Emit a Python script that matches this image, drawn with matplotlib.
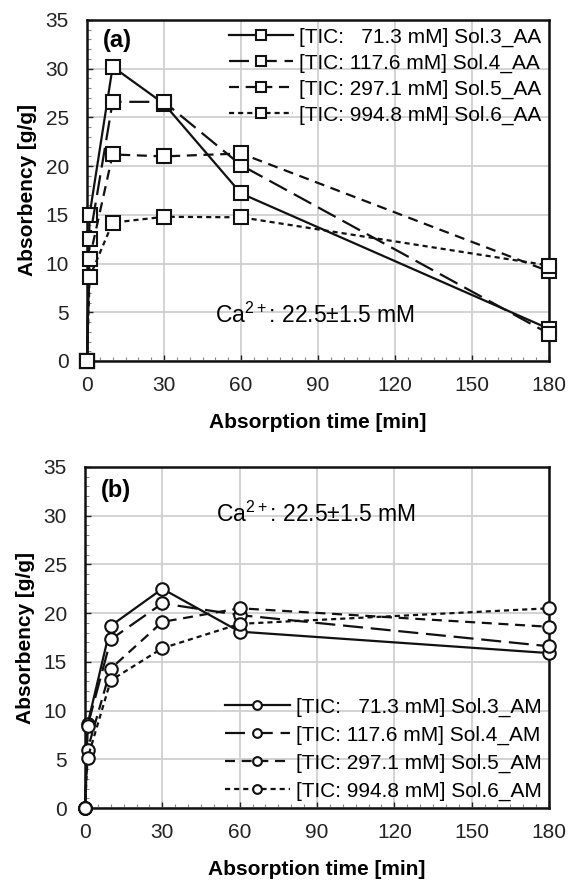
import matplotlib
matplotlib.use("Agg")
import matplotlib.pyplot as plt
from matplotlib.ticker import MultipleLocator

plt.rcParams['font.family'] = ['Liberation Sans', 'DejaVu Sans']
plt.rcParams['mathtext.fontset'] = 'custom'
plt.rcParams['mathtext.rm'] = 'Liberation Sans'
plt.rcParams['mathtext.it'] = 'Liberation Sans:italic'
plt.rcParams['mathtext.bf'] = 'Liberation Sans:bold'

time = [0, 1, 10, 30, 60, 180]

labels_a = ["[TIC:   71.3 mM] Sol.3_AA", "[TIC: 117.6 mM] Sol.4_AA",
            "[TIC: 297.1 mM] Sol.5_AA", "[TIC: 994.8 mM] Sol.6_AA"]
sol3_aa = [0, 15.0, 30.2, 26.4, 17.2, 3.3]
sol4_aa = [0, 12.5, 26.6, 26.6, 20.1, 2.8]
sol5_aa = [0, 10.5, 21.2, 21.0, 21.3, 9.2]
sol6_aa = [0, 8.6, 14.2, 14.8, 14.75, 9.8]

labels_b = ["[TIC:   71.3 mM] Sol.3_AM", "[TIC: 117.6 mM] Sol.4_AM",
            "[TIC: 297.1 mM] Sol.5_AM", "[TIC: 994.8 mM] Sol.6_AM"]
sol3_am = [0, 8.6, 18.7, 22.5, 18.1, 15.9]
sol4_am = [0, 8.4, 17.3, 21.0, 19.8, 16.6]
sol5_am = [0, 6.0, 14.3, 19.1, 20.5, 18.6]
sol6_am = [0, 5.1, 13.1, 16.4, 18.9, 20.5]

styles = ['-', (0, (9, 3.5)), (0, (4.5, 3)), (0, (2.3, 1.8))]
FS = 15

fig = plt.figure(figsize=(5.71, 8.84), dpi=100)
ax1 = fig.add_axes([87/571, 1-361/884, 462/571, 341/884])
ax2 = fig.add_axes([85/571, 1-808/884, 464/571, 341/884])

def style_axes(ax):
    ax.set_xlim(0, 180)
    ax.set_ylim(0, 35)
    ax.xaxis.set_major_locator(MultipleLocator(30))
    ax.xaxis.set_minor_locator(MultipleLocator(5))
    ax.yaxis.set_major_locator(MultipleLocator(5))
    ax.yaxis.set_minor_locator(MultipleLocator(1))
    ax.grid(True, which='major', color='#d0d0d0', linewidth=1.3)
    ax.set_axisbelow(True)
    ax.tick_params(which='both', direction='in', labelsize=FS, colors='#222222')
    ax.tick_params(which='major', length=4, width=1)
    ax.tick_params(which='minor', length=3, width=0.8, color='#888888')
    ax.tick_params(axis='x', pad=11)
    ax.tick_params(axis='y', pad=13)
    for s in ax.spines.values():
        s.set_linewidth(1.8)
        s.set_color('#111111')
    ax.set_xlabel('Absorption time [min]', fontsize=FS, fontweight='bold', labelpad=13)
    ax.set_ylabel('Absorbency [g/g]', fontsize=FS, fontweight='bold', labelpad=6)

for ys, lab, ls in zip([sol3_aa, sol4_aa, sol5_aa, sol6_aa], labels_a, styles):
    ax1.plot(time, ys, linestyle=ls, color='#111111', linewidth=1.6, marker='s',
             markersize=10.5, markerfacecolor='white', markeredgecolor='#111111',
             markeredgewidth=1.5, label=lab, clip_on=False, zorder=3)
style_axes(ax1)
ax1.legend(loc='upper right', frameon=False, fontsize=FS, handlelength=3.1,
           handletextpad=0.3, labelspacing=0.33, borderaxespad=0.15,
           borderpad=0.2, markerscale=0.65)
ax1.text(0.035, 0.975, '(a)', transform=ax1.transAxes, fontsize=17,
         fontweight='bold', va='top', ha='left')
ax1.text(0.277, 0.135, 'Ca$^{\\mathrm{2+}}$: 22.5\u00b11.5 mM', transform=ax1.transAxes,
         fontsize=16.5, va='center', ha='left')

for ys, lab, ls in zip([sol3_am, sol4_am, sol5_am, sol6_am], labels_b, styles):
    ax2.plot(time, ys, linestyle=ls, color='#111111', linewidth=1.6, marker='o',
             markersize=9, markerfacecolor='white', markeredgecolor='#111111',
             markeredgewidth=1.5, label=lab, clip_on=False, zorder=3)
style_axes(ax2)
ax2.legend(loc='lower right', frameon=False, fontsize=FS, handlelength=3.1,
           handletextpad=0.3, labelspacing=0.42, borderaxespad=0.15,
           borderpad=0.2, markerscale=0.7)
ax2.text(0.035, 0.965, '(b)', transform=ax2.transAxes, fontsize=17,
         fontweight='bold', va='top', ha='left')
ax2.text(0.282, 0.86, 'Ca$^{\\mathrm{2+}}$: 22.5\u00b11.5 mM', transform=ax2.transAxes,
         fontsize=16.5, va='center', ha='left')

fig.savefig('out.png', dpi=100)
